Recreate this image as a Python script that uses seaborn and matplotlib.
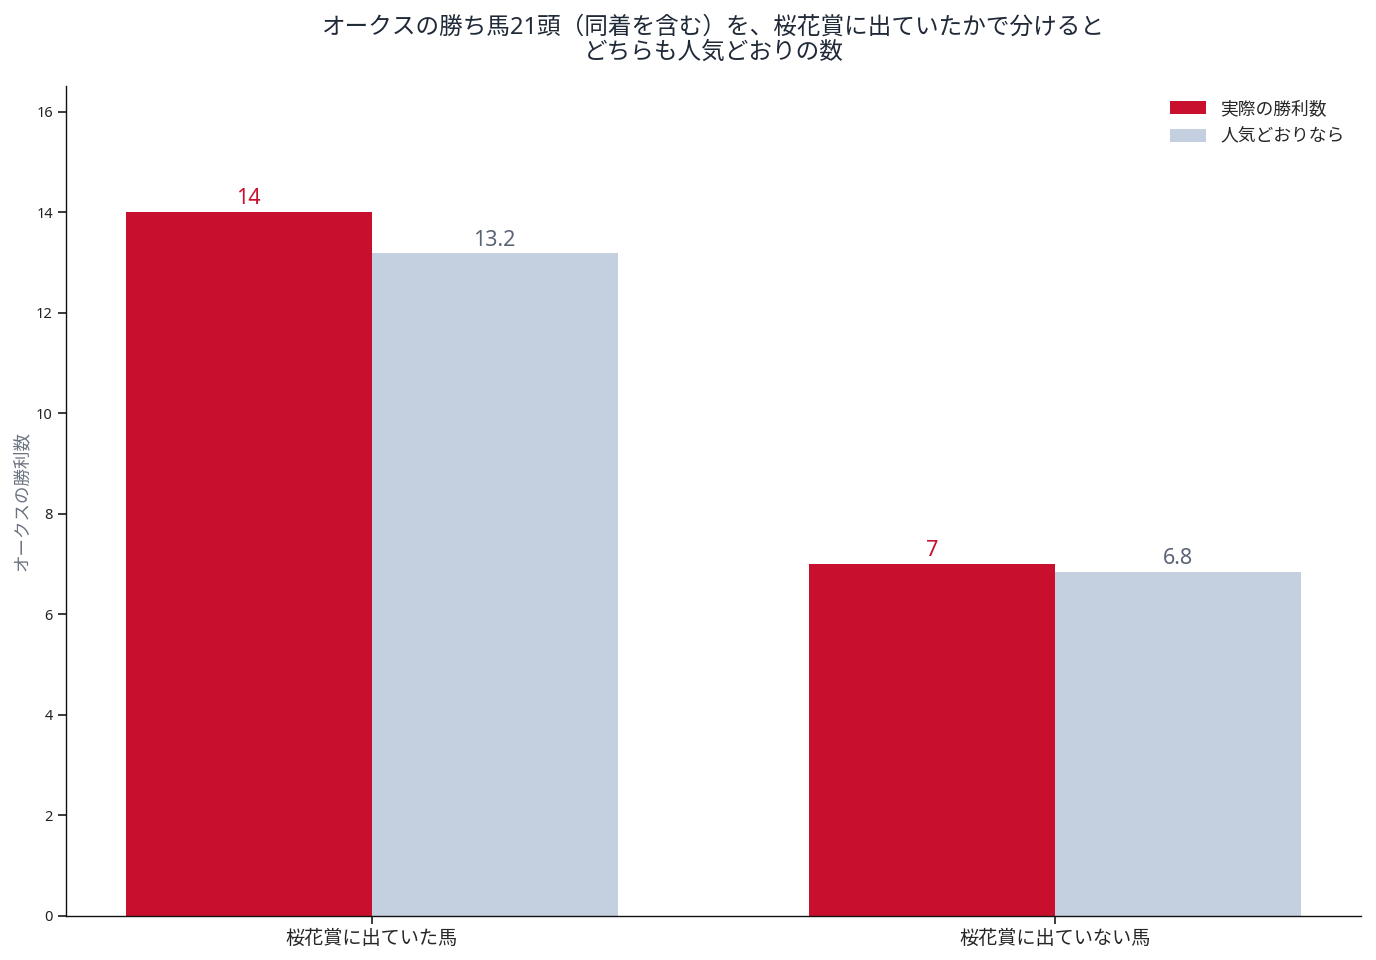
import matplotlib
matplotlib.use("Agg")
import matplotlib.pyplot as plt
import seaborn as sns
import pandas as pd

categories = ["桜花賞に出ていた馬", "桜花賞に出ていない馬"]
actual_wins = [14, 7]
expected_wins = [13.18, 6.84]
series_names = ["実際の勝利数", "人気どおりなら"]
y_ticks = [0, 2, 4, 6, 8, 10, 12, 14, 16]

sns.set_theme(style="ticks")
plt.rcParams['font.family'] = ['Noto Sans', 'Noto Sans CJK JP', 'DejaVu Sans']

df = pd.DataFrame({
    "cat": categories * 2,
    "series": [series_names[0]] * 2 + [series_names[1]] * 2,
    "value": actual_wins + expected_wins,
})

red = "#c8102e"
blue = "#c4d0e0"
label_grey = "#5b6475"

fig = plt.figure(figsize=(13.76, 9.6), dpi=100)
ax = fig.add_axes([0.048, 0.046, 0.941, 0.864])
sns.barplot(data=df, x="cat", y="value", hue="series", order=categories,
            hue_order=series_names, palette=[red, blue], width=0.72,
            saturation=1, ax=ax, errorbar=None, linewidth=0)

for cont, col, fmt in zip(ax.containers, [red, label_grey], ["{:.0f}", "{:.1f}"]):
    ax.bar_label(cont, labels=[fmt.format(v) for v in cont.datavalues],
                 color=col, fontsize=15.5, padding=2)

ax.set_xlim(-0.447, 1.447)
ax.set_ylim(0, 16.5)
ax.set_yticks(y_ticks)
ax.tick_params(axis='y', labelsize=10.5, colors="#222222")
ax.tick_params(axis='x', labelsize=13.8)
ax.set_xlabel("")
ax.set_ylabel("オークスの勝利数", fontsize=12.6, color="#6b7280")
for s in ["top", "right"]:
    ax.spines[s].set_visible(False)
for s in ["left", "bottom"]:
    ax.spines[s].set_color("#111111")
    ax.spines[s].set_linewidth(1)

leg = ax.legend(loc="upper right", bbox_to_anchor=(0.9975, 1.0), frameon=False,
                fontsize=12.8, handlelength=2.0, handleheight=0.7,
                borderaxespad=0.35, labelspacing=0.55)

ax.set_title("オークスの勝ち馬21頭（同着を含む）を、桜花賞に出ていたかで分けると\nどちらも人気どおりの数",
             fontsize=17, color="#1f2937", pad=20, linespacing=1.05)

fig.savefig("out.png", dpi=100)
